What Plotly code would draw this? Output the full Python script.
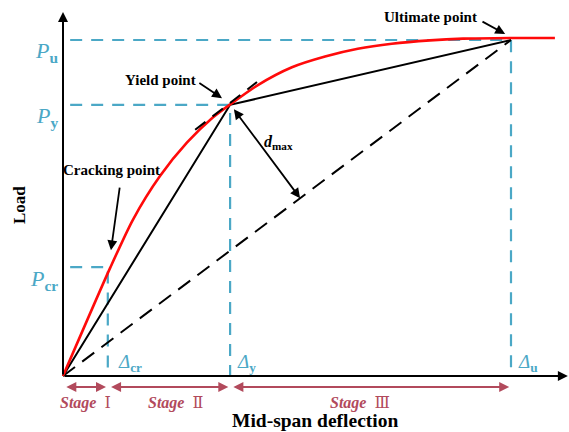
import plotly.graph_objects as go

# ---------------- data (arbitrary units: deflection 0-100, load 0-100) ----------------
key_labels = ["cr", "y", "u"]
key_deflection = [10.0, 37.3, 100.0]      # Δcr, Δy, Δu
key_load = [32.4, 80.7, 100.0]            # Pcr, Py, Pu

curve_deflection = [0, 10.5, 15.6, 21.65, 27.7, 33.5, 37.7, 43.5, 51.1, 58.5, 65.8,
                    73.4, 81.9, 89.3, 99.8, 109.8]
curve_load = [0, 32.1, 46.5, 59.5, 69.5, 77.0, 81.2, 86.6, 91.9, 95.1, 97.4,
              98.9, 99.9, 100.4, 100.6, 100.6]

tangent_slope = 1.03
stage_names = ["Stage Ⅰ", "Stage Ⅱ", "Stage Ⅲ"]

# ---------------- styling ----------------
BLUE = "#4BA8C6"
RED = "#FF0A0A"
STAGE = "#B24A5C"
FONT = "Liberation Serif, Times New Roman, Tinos, DejaVu Serif, serif"
SX, SY = 4.48, 3.36  # px per unit (for geometry of d_max)

d_cr, d_y, d_u = key_deflection
p_cr, p_y, p_u = key_load

fig = go.Figure()

# guide dashed lines (blue)
for d, p in zip(key_deflection, key_load):
    fig.add_trace(go.Scatter(x=[1.6, d, d], y=[p, p, 0], mode="lines",
                             line=dict(color=BLUE, width=2.2, dash="12px,9px"),
                             hoverinfo="skip", showlegend=False))

# secant dashed (origin -> ultimate)
fig.add_trace(go.Scatter(x=[0, d_u], y=[0, p_u], mode="lines",
                         line=dict(color="black", width=2, dash="15px,9px"),
                         hoverinfo="skip", showlegend=False))
# bilinear solid
fig.add_trace(go.Scatter(x=[0, d_y, d_u], y=[0, p_y, p_u], mode="lines",
                         line=dict(color="black", width=2),
                         hoverinfo="skip", showlegend=False))
# load-deflection curve
fig.add_trace(go.Scatter(x=curve_deflection, y=curve_load, mode="lines",
                         line=dict(color=RED, width=2.6, shape="spline", smoothing=0.7),
                         hoverinfo="skip", showlegend=False))
# tangent at yield point
tx = [d_y - 7.8, d_y + 6.0]
ty = [p_y + 0.6 + tangent_slope * (x - d_y) for x in tx]
fig.add_trace(go.Scatter(x=tx, y=ty, mode="lines",
                         line=dict(color="black", width=2, dash="13px,9px"),
                         hoverinfo="skip", showlegend=False))

ann = []

def arrow(x, y, ax, ay, color="black", width=1.8, both=False, head=2, size=1.1):
    ann.append(dict(x=x, y=y, ax=ax, ay=ay, xref="x", yref="y", axref="x", ayref="y",
                    text="", showarrow=True, arrowhead=head, arrowsize=size,
                    arrowwidth=width, arrowcolor=color, standoff=0, startstandoff=0,
                    startarrowhead=head, startarrowsize=size,
                    arrowside="end+start" if both else "end"))

def text(x, y, s, size=13, color="black", xanchor="center", angle=0):
    ann.append(dict(x=x, y=y, xref="x", yref="y", text=s, showarrow=False,
                    xanchor=xanchor, yanchor="middle", textangle=angle,
                    font=dict(family=FONT, size=size, color=color)))

# axes with arrows
arrow(112.7, 0, 0, 0, width=2, head=2, size=1.0)
arrow(0, 108.3, 0, 0, width=2, head=2, size=1.0)

# point labels with arrows
text(10.9, 61.3, "<b>Cracking point</b>", 15)
arrow(d_cr + 0.7, p_cr + 5.0, 12.7, 56.5)
text(21.7, 88.1, "<b>Yield point</b>", 15)
arrow(d_y - 1.8, p_y + 2.0, 30.1, 87.5)
text(82.1, 106.8, "<b>Ultimate point</b>", 15)
arrow(d_u - 1.3, p_u + 1.8, 93.3, 105.7)

# d_max: perpendicular from yield point to secant line (computed in pixel space)
ux, uy = d_u * SX, p_u * SY
L = (ux ** 2 + uy ** 2) ** 0.5
ex, ey = ux / L, uy / L
proj = d_y * SX * ex + p_y * SY * ey
fx, fy = proj * ex / SX, proj * ey / SY
arrow(fx, fy, d_y + 0.6, p_y - 0.9, both=True, width=1.8)
text(48.0, 69.6, "<b><i>d</i></b><sub><b>max</b></sub>", 16)

# P labels
for lab, p in zip(key_labels, key_load):
    text(-0.7, p - 3.7, f"<i>P</i><sub><b>{lab}</b></sub>", 22, BLUE, xanchor="right")
# Δ labels
for lab, d in zip(key_labels, key_deflection):
    off = 1.9 if lab == "cr" else 1.2
    text(d + off, 3.9, f"<i>Δ</i><sub><b>{lab}</b></sub>", 19, BLUE, xanchor="left")

# stage arrows
bounds = [0] + key_deflection
stage_x = [5.0, 25.0, 66.3]
for i, name in enumerate(stage_names):
    a, b = bounds[i], bounds[i + 1]
    arrow(b - 0.4, -3.3, a + 0.4, -3.3, color=STAGE, width=2, both=True, head=2, size=1.0)
    word, num = name.split(" ")
    text(stage_x[i], -7.9, f"<b><i>{word}</i></b>  {num}", 16, STAGE)

# axis titles
text(56.3, -13.3, "<b>Mid-span deflection</b>", 19.5)
text(-9.6, 50.9, "<b>Load</b>", 17, angle=-90)

fig.update_layout(
    width=569, height=432, autosize=False,
    margin=dict(l=0, r=0, t=0, b=0),
    paper_bgcolor="white", plot_bgcolor="white",
    font=dict(family=FONT),
    xaxis=dict(range=[-63 / SX, (569 - 63) / SX], visible=False, fixedrange=True),
    yaxis=dict(range=[(376 - 432) / SY, 376 / SY], visible=False, fixedrange=True),
    annotations=ann,
    showlegend=False,
)

fig.write_html("out.html", config={"displayModeBar": False},
               post_script="document.body.style.margin='0';document.body.style.overflow='hidden';")
